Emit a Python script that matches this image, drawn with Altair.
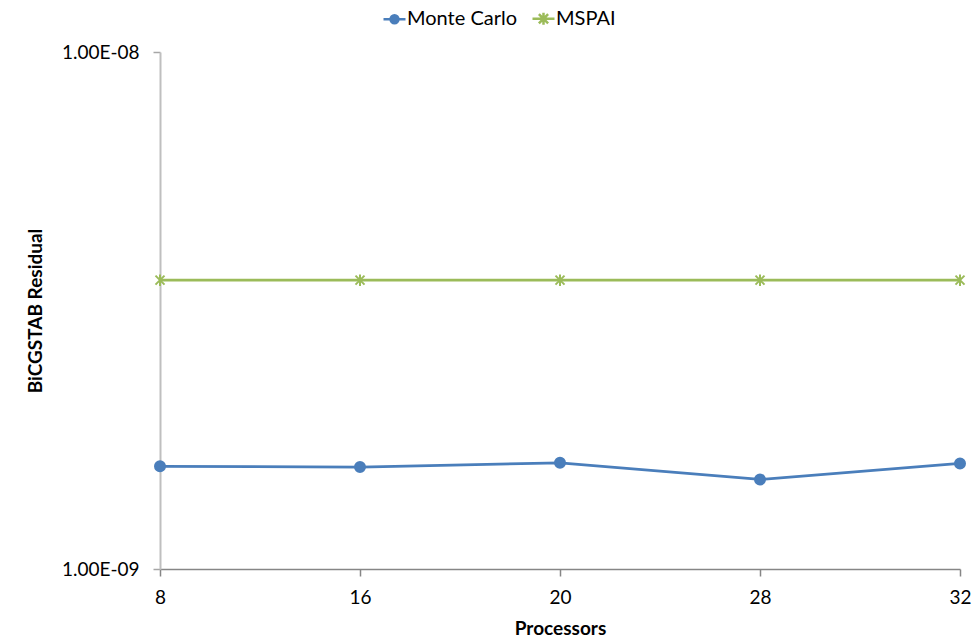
import altair as alt
import pandas as pd

# Residuals after BiCGSTAB for each processor count
processors = ["8", "16", "20", "28", "32"]
monte_carlo = [1.58e-9, 1.575e-9, 1.605e-9, 1.49e-9, 1.60e-9]
mspai = [3.62e-9, 3.62e-9, 3.62e-9, 3.62e-9, 3.62e-9]

series_names = ["Monte Carlo", "MSPAI"]
series_colors = ["#4a7ebb", "#9bbb59"]

# marker glyphs: filled circle and a six-armed asterisk
asterisk = "M-0.9,-0.9L0.9,0.9M-0.9,0.9L0.9,-0.9M0,-1.15L0,1.15"
marker_shapes = ["circle", asterisk]

# legend glyphs: short line segment with the marker on top
legend_shapes = [
    "M-1,0L1,0M0.36,0A0.36,0.36,0,1,1,-0.36,0A0.36,0.36,0,1,1,0.36,0",
    "M-1,0L1,0M-0.42,-0.42L0.42,0.42M-0.42,0.42L0.42,-0.42M0,-0.55L0,0.55",
]

df = pd.DataFrame(
    {
        "Processors": processors * 2,
        "Residual": monte_carlo + mspai,
        "Series": [series_names[0]] * len(processors) + [series_names[1]] * len(processors),
    }
)

FONT = "Lato"

x_enc = alt.X(
    "Processors:O",
    sort=processors,
    scale=alt.Scale(type="point", padding=0),
    axis=alt.Axis(
        title="Processors",
        labelAngle=0,
        labelFont=FONT,
        labelFontSize=19,
        labelColor="black",
        labelPadding=12,
        titleFont=FONT,
        titleFontSize=19,
        titleFontWeight="bold",
        titleColor="black",
        titlePadding=12,
        domainColor="#868686",
        domainWidth=1.5,
        tickColor="#868686",
        tickWidth=1.5,
        tickSize=7,
        grid=False,
    ),
)

label_expr = (
    "format(datum.value / pow(10, round(log(datum.value) / LN10)), '.2f') + 'E' + "
    "(round(log(datum.value) / LN10) < 0 ? '-' : '+') + "
    "(abs(round(log(datum.value) / LN10)) < 10 ? '0' : '') + "
    "abs(round(log(datum.value) / LN10))"
)

y_enc = alt.Y(
    "Residual:Q",
    scale=alt.Scale(type="log", domain=[1e-9, 1e-8], nice=False),
    axis=alt.Axis(
        title="BiCGSTAB Residual",
        values=[1e-9, 1e-8],
        labelExpr=label_expr,
        labelFont=FONT,
        labelFontSize=19,
        labelColor="black",
        labelPadding=14,
        titleFont=FONT,
        titleFontSize=19,
        titleFontWeight="bold",
        titleColor="black",
        titlePadding=16,
        domainColor="#bfbfbf",
        domainWidth=2,
        tickColor="#a6a6a6",
        tickWidth=1.5,
        tickSize=7,
        grid=False,
    ),
)

color_scale = alt.Scale(domain=series_names, range=series_colors)

lines = (
    alt.Chart(df)
    .mark_line(strokeWidth=2.75)
    .encode(
        x=x_enc,
        y=y_enc,
        color=alt.Color("Series:N", scale=color_scale, legend=None),
    )
)

points = (
    alt.Chart(df)
    .mark_point(filled=False, fill="#4a7ebb", strokeWidth=2, size=100, opacity=1)
    .encode(
        x=x_enc,
        y=y_enc,
        color=alt.Color("Series:N", scale=color_scale, legend=None),
        shape=alt.Shape(
            "Series:N",
            scale=alt.Scale(domain=series_names, range=marker_shapes),
            legend=None,
        ),
    )
)

legend_spec = dict(
    orient="none",
    legendX=222,
    legendY=-46,
    direction="horizontal",
    columns=2,
    title=None,
    labelFont=FONT,
    labelFontSize=20,
    labelColor="black",
    labelOffset=0,
    columnPadding=9,
    symbolOpacity=1,
    symbolSize=484,
    symbolStrokeWidth=2.5,
)

legend_layer = (
    alt.Chart(df)
    .transform_filter("false")
    .mark_point(filled=False, fill="#4a7ebb", strokeWidth=2.5, size=484, opacity=1)
    .encode(
        x=x_enc,
        y=y_enc,
        color=alt.Color("Series:N", scale=color_scale, legend=alt.Legend(**legend_spec)),
        shape=alt.Shape(
            "Series:N",
            scale=alt.Scale(domain=series_names, range=legend_shapes),
            legend=alt.Legend(**legend_spec),
        ),
    )
)

chart = (
    alt.layer(lines, points, legend_layer)
    .resolve_scale(color="independent", shape="independent")
    .properties(
        width=800,
        height=517,
        autosize=alt.AutoSizeParams(type="none"),
        padding={"left": 160, "top": 52, "right": 15, "bottom": 71},
        background="white",
    )
    .configure_view(stroke=None)
)

chart.save("out.html", embed_options={"renderer": "svg", "actions": False})
